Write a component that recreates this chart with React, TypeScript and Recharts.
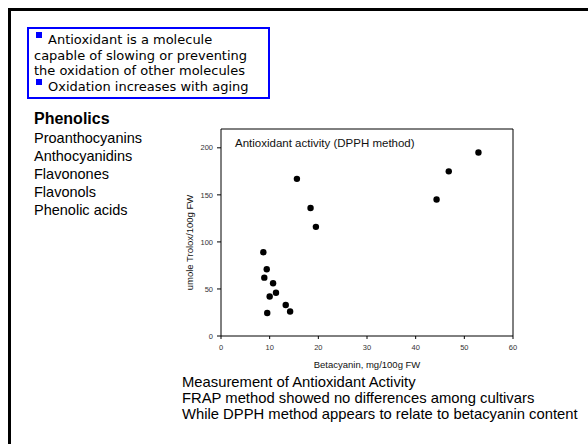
import { ScatterChart, Scatter, XAxis, YAxis, ReferenceLine } from "recharts";

// betacyanin (mg/100g FW) vs DPPH antioxidant activity (umole Trolox/100g FW)
const betacyanin = [15.6, 18.4, 19.5, 8.7, 9.4, 8.9, 10.7, 10.0, 11.3, 13.3, 14.2, 9.5, 44.3, 46.8, 52.9];
const dpph = [167, 136, 116, 89, 71, 62, 56, 42, 46, 33, 26, 24.5, 145, 175, 195];

const xTicks = [0, 10, 20, 30, 40, 50, 60];
const yTicks = [0, 50, 100, 150, 200];

const bullets = [
  ["Antioxidant is a molecule", "capable of slowing or preventing", "the oxidation of other molecules"],
  ["Oxidation increases with aging"],
];
const phenolics = ["Proanthocyanins", "Anthocyanidins", "Flavonones", "Flavonols", "Phenolic acids"];
const notes = [
  "Measurement of Antioxidant Activity",
  "FRAP method showed no differences among cultivars",
  "While DPPH method appears to relate to betacyanin content",
];

const points = betacyanin.map((x, i) => ({ x, y: dpph[i] }));

const sans = "'Liberation Sans', Arial, sans-serif";
const tickStyle = { fontSize: 7.5, fill: "#333", fontFamily: sans };

const Dot = (p: any) => <circle cx={p.cx} cy={p.cy} r={3.2} fill="#000" />;

// rotated y-axis title, sits a little below the plot's middle like the original
const YTitle = (props: any) => {
  const vb = props.viewBox || { x: 160, y: 129, width: 61, height: 207 };
  const cx = vb.x + 30;
  const cy = vb.y + vb.height / 2 + 10;
  return (
    <text
      x={cx}
      y={cy}
      transform={`rotate(-90, ${cx}, ${cy})`}
      textAnchor="middle"
      dy="0.35em"
      fontSize={9.5}
      fill="#111"
      fontFamily={sans}
    >
      umole Trolox/100g FW
    </text>
  );
};

const Square = () => (
  <span
    style={{
      display: "inline-block",
      width: 6,
      height: 6,
      background: "#0000ff",
      marginLeft: 2,
      marginRight: 6,
      verticalAlign: "0.45em",
    }}
  />
);

export default function App() {
  return (
    <div style={{ position: "absolute", left: 0, top: 0, width: 588, height: 444, background: "#fff", overflow: "hidden" }}>
      {/* slide frame */}
      <div style={{ position: "absolute", left: 8, top: 8, width: 600, height: 3, background: "#000" }} />
      <div style={{ position: "absolute", left: 8, top: 8, width: 3, height: 460, background: "#000" }} />

      <div
        style={{
          position: "absolute",
          left: 27,
          top: 27,
          width: 243,
          height: 72,
          boxSizing: "border-box",
          border: "2px solid #0000ff",
          padding: "3px 0 0 5px",
          fontFamily: "'DejaVu Sans', Verdana, sans-serif",
          fontSize: 13,
          lineHeight: "15.7px",
          color: "#000",
          whiteSpace: "nowrap",
        }}
      >
        {bullets.map((b, i) =>
          b.map((line, j) => (
            <div key={i + "-" + j}>
              {j === 0 && <Square />}
              {line}
            </div>
          ))
        )}
      </div>

      <div style={{ position: "absolute", left: 34, top: 109.5, fontFamily: sans, fontSize: 16, fontWeight: "bold", lineHeight: "18px" }}>
        Phenolics
      </div>
      <div style={{ position: "absolute", left: 34, top: 129, fontFamily: sans, fontSize: 14.5, lineHeight: "18px" }}>
        {phenolics.map((p) => (
          <div key={p}>{p}</div>
        ))}
      </div>

      <div style={{ position: "absolute", left: 0, top: 0 }}>
        <ScatterChart width={588} height={444} margin={{ top: 129, right: 75, bottom: 86, left: 160 }}>
          <XAxis
            type="number"
            dataKey="x"
            domain={[0, 60]}
            ticks={xTicks}
            height={22}
            stroke="#000"
            tickSize={3}
            tickMargin={6}
            tick={tickStyle}
            label={{ value: "Betacyanin, mg/100g FW", position: "bottom", offset: 3, fontSize: 9.5, fill: "#111", fontFamily: sans }}
          />
          <YAxis
            type="number"
            dataKey="y"
            domain={[0, 220]}
            ticks={yTicks}
            width={61}
            stroke="#000"
            tickSize={4}
            tickMargin={4}
            tick={tickStyle}
            label={YTitle}
          />
          <ReferenceLine y={220} stroke="#000" />
          <ReferenceLine x={60} stroke="#000" />
          <Scatter data={points} shape={Dot} isAnimationActive={false} />
        </ScatterChart>
      </div>

      <div style={{ position: "absolute", left: 235, top: 136.5, fontFamily: sans, fontSize: 11.5, color: "#111", whiteSpace: "nowrap" }}>
        Antioxidant activity (DPPH method)
      </div>

      <div style={{ position: "absolute", left: 182, top: 373.8, fontFamily: sans, fontSize: 14.8, lineHeight: "16px", whiteSpace: "nowrap" }}>
        {notes.map((n) => (
          <div key={n}>{n}</div>
        ))}
      </div>
    </div>
  );
}
